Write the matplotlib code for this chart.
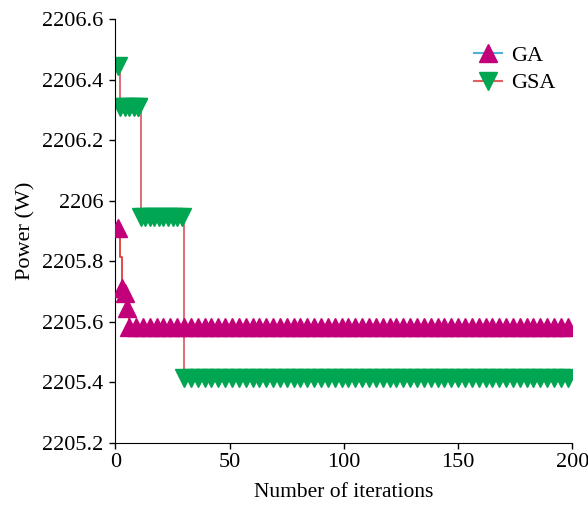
import numpy as np
import matplotlib
matplotlib.use("Agg")
import matplotlib.pyplot as plt
from matplotlib.lines import Line2D
from matplotlib.ticker import FuncFormatter

plt.rcParams['font.family'] = ['Liberation Serif', 'DejaVu Serif']

# power per iteration (1..200), piecewise constant after convergence
iterations = np.arange(1, 201)
ga_power = np.array([2205.91, 2205.815, 2205.71, 2205.695, 2205.645] + [2205.582] * 195)
gsa_power = np.array([2206.445] + [2206.31] * 9 + [2205.945] * 19 + [2205.415] * 171)

# where the markers go along each curve
ga_marks = [0, 2, 3, 4] + list(range(5, 200, 3))
gsa_marks = [0] + list(range(1, 10, 2)) + [9] + list(range(10, 29, 2)) + list(range(29, 200, 3))

ga_marker = '#c2007a'
gsa_marker = '#00a651'
fs = 16
ms = 13.5

fig = plt.figure(figsize=(5.88, 5.07), dpi=100)
ax = fig.add_axes([0.1964, 0.1268, 0.7769, 0.8352])

ax.plot(iterations, gsa_power, drawstyle='steps-post', color='#d9606a', lw=1.3,
        marker='v', markersize=ms, markevery=gsa_marks,
        markerfacecolor=gsa_marker, markeredgecolor=gsa_marker, zorder=2)
ax.plot(iterations, ga_power, drawstyle='steps-post', color='#e03a3a', lw=1.3,
        marker='^', markersize=ms, markevery=ga_marks,
        markerfacecolor=ga_marker, markeredgecolor=ga_marker, zorder=3)

ax.set_xlim(0, 200)
ax.set_ylim(2205.2, 2206.6)
ax.set_xticks([0, 50, 100, 150, 200])
ax.set_yticks(np.arange(2205.2, 2206.61, 0.2))
ax.yaxis.set_major_formatter(FuncFormatter(lambda v, p: '%g' % round(v, 1)))

ax.spines['top'].set_visible(False)
ax.spines['right'].set_visible(False)
ax.tick_params(direction='out', length=4, width=1, labelsize=fs)
ax.tick_params(axis='y', pad=4.5)

ax.set_xlabel('Number of iterations', fontsize=15.5, labelpad=8)
ax.set_ylabel('Power (W)', fontsize=fs, labelpad=5)

handles = [
    Line2D([], [], color='#4fb3d9', lw=1.5, marker='^', markersize=ms,
           markerfacecolor=ga_marker, markeredgecolor=ga_marker),
    Line2D([], [], color='#e0605f', lw=1.5, marker='v', markersize=ms,
           markerfacecolor=gsa_marker, markeredgecolor=gsa_marker),
]
ax.legend(handles, ['GA', 'GSA'], loc='upper right', frameon=False, fontsize=fs,
          handlelength=1.25, handletextpad=0.4, labelspacing=0.3,
          bbox_to_anchor=(1.007, 0.985))

fig.savefig('out.png', dpi=100)
